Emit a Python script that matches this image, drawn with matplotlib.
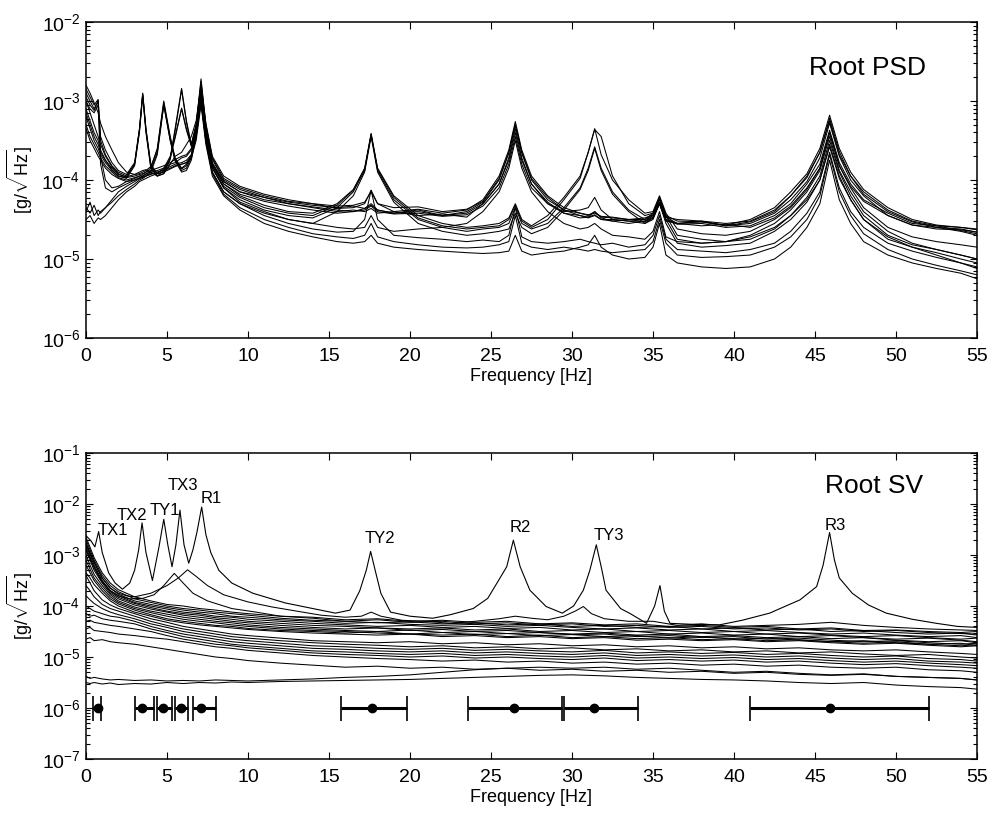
import matplotlib
matplotlib.use("Agg")
import matplotlib.pyplot as plt
import numpy as np
from matplotlib.ticker import LogLocator, MultipleLocator, NullFormatter

plt.rcParams["font.family"] = ["Liberation Sans", "DejaVu Sans"]
plt.rcParams["mathtext.fontset"] = "custom"
plt.rcParams["mathtext.rm"] = "Liberation Sans"
plt.rcParams["mathtext.it"] = "Liberation Sans:italic"
plt.rcParams["mathtext.bf"] = "Liberation Sans:bold"
plt.rcParams["axes.unicode_minus"] = False

# ---------------------------------------------------------------- top panel
# frequency grid [Hz] shared by all root PSD curves, values are log10(g/sqrt(Hz))
psd_freq = [0, 0.25, 0.5, 0.75, 0.9, 1.2, 1.6, 2.0, 2.5, 3.0,
            3.3, 3.5, 3.7, 4.0, 4.4, 4.8, 5.2, 5.5, 5.9, 6.2,
            6.5, 6.8, 7.1, 7.4, 7.8, 8.5, 9.5, 11, 12.5, 14,
            15.5, 16.5, 17.2, 17.6, 18.0, 19, 20.5, 22, 23.5, 24.5,
            25.5, 26.1, 26.5, 26.9, 27.5, 28.5, 29.5, 30.5, 31.0, 31.4,
            31.8, 32.5, 33.5, 34.5, 35.0, 35.4, 35.8, 36.5, 38, 39.5,
            41, 42.5, 43.5, 44.5, 45.3, 45.9, 46.5, 47.2, 48, 49.5,
            51, 52.5, 54, 55]

psd_x1 = [-2.85, -2.95, -3.05, -2.98, -3.45, -3.62, -3.78, -3.88, -3.93, -3.78,
          -3.35, -2.9, -3.35, -3.8, -3.92, -3.9, -3.72, -3.35, -2.84, -3.25,
          -3.55, -3.3, -2.72, -3.3, -3.72, -3.98, -4.1, -4.2, -4.27, -4.3,
          -4.36, -4.35, -4.3, -4.13, -4.3, -4.4, -4.37, -4.42, -4.38, -4.25,
          -3.95, -3.62, -3.26, -3.62, -3.95, -4.2, -4.35, -4.42, -4.45, -4.4,
          -4.47, -4.48, -4.5, -4.5, -4.42, -4.22, -4.45, -4.52, -4.53, -4.57,
          -4.5, -4.35, -4.15, -3.92, -3.6, -3.18, -3.6, -3.9, -4.12, -4.35,
          -4.5, -4.57, -4.6, -4.63]
psd_x2 = [-2.9, -3.0, -3.1, -3.0, -3.5, -3.68, -3.82, -3.9, -3.95, -3.8,
          -3.36, -2.91, -3.36, -3.82, -3.95, -3.92, -3.74, -3.38, -2.86, -3.27,
          -3.57, -3.32, -2.75, -3.32, -3.74, -4.0, -4.12, -4.22, -4.3, -4.34,
          -4.38, -4.4, -4.36, -4.3, -4.38, -4.42, -4.4, -4.45, -4.4, -4.28,
          -4.0, -3.66, -3.3, -3.66, -4.0, -4.25, -4.38, -4.45, -4.47, -4.44,
          -4.5, -4.5, -4.52, -4.52, -4.45, -4.25, -4.47, -4.55, -4.52, -4.58,
          -4.53, -4.4, -4.2, -3.97, -3.65, -3.22, -3.64, -3.95, -4.18, -4.4,
          -4.53, -4.6, -4.62, -4.66]
psd_x3 = [-3.0, -3.15, -3.3, -3.45, -3.55, -3.7, -3.83, -3.92, -3.97, -3.8,
          -3.37, -2.92, -3.37, -3.83, -3.92, -3.85, -3.7, -3.45, -3.09, -3.35,
          -3.55, -3.3, -2.8, -3.35, -3.78, -4.02, -4.15, -4.25, -4.3, -4.35,
          -4.4, -4.38, -4.4, -4.36, -4.42, -4.4, -4.45, -4.43, -4.47, -4.3,
          -4.05, -3.72, -3.35, -3.72, -4.05, -4.28, -4.42, -4.48, -4.47, -4.4,
          -4.48, -4.52, -4.55, -4.52, -4.47, -4.28, -4.5, -4.56, -4.55, -4.6,
          -4.58, -4.45, -4.3, -4.05, -3.8, -3.37, -3.78, -4.05, -4.25, -4.42,
          -4.55, -4.58, -4.64, -4.68]
psd_x4 = [-3.1, -3.25, -3.4, -3.5, -3.62, -3.75, -3.87, -3.95, -3.98, -3.82,
          -3.4, -2.93, -3.4, -3.85, -3.95, -3.88, -3.72, -3.47, -3.1, -3.37,
          -3.57, -3.35, -2.85, -3.38, -3.8, -4.05, -4.18, -4.27, -4.33, -4.38,
          -4.42, -4.4, -4.38, -4.33, -4.4, -4.43, -4.42, -4.46, -4.44, -4.33,
          -4.1, -3.8, -3.45, -3.8, -4.1, -4.3, -4.4, -4.38, -4.35, -4.22,
          -4.38, -4.5, -4.52, -4.55, -4.48, -4.3, -4.52, -4.55, -4.58, -4.56,
          -4.6, -4.48, -4.33, -4.1, -3.85, -3.4, -3.82, -4.08, -4.27, -4.45,
          -4.57, -4.6, -4.65, -4.7]
psd_y1 = [-3.2, -3.35, -3.5, -3.6, -3.68, -3.78, -3.88, -3.95, -3.97, -3.95,
          -3.93, -3.92, -3.9, -3.85, -3.6, -3.0, -3.45, -3.72, -3.85, -3.8,
          -3.68, -3.35, -2.9, -3.4, -3.82, -4.05, -4.2, -4.32, -4.4, -4.42,
          -4.3, -4.12, -3.85, -3.41, -3.85, -4.2, -4.45, -4.55, -4.6, -4.58,
          -4.55, -4.48, -4.3, -4.5, -4.58, -4.45, -4.22, -3.95, -3.65, -3.35,
          -3.68, -4.0, -4.25, -4.42, -4.4, -4.2, -4.42, -4.62, -4.68, -4.7,
          -4.65, -4.5, -4.35, -4.12, -3.85, -3.4, -3.82, -4.1, -4.35, -4.6,
          -4.72, -4.78, -4.82, -4.85]
psd_y2 = [-3.3, -3.45, -3.55, -3.65, -3.72, -3.82, -3.9, -3.97, -4.0, -3.97,
          -3.95, -3.95, -3.93, -3.88, -3.65, -3.05, -3.5, -3.75, -3.88, -3.85,
          -3.72, -3.4, -2.95, -3.45, -3.85, -4.1, -4.25, -4.38, -4.45, -4.48,
          -4.35, -4.15, -3.88, -3.42, -3.88, -4.25, -4.5, -4.6, -4.65, -4.62,
          -4.6, -4.55, -4.35, -4.55, -4.62, -4.55, -4.35, -4.1, -3.85, -3.58,
          -3.85, -4.15, -4.38, -4.5, -4.45, -4.28, -4.5, -4.75, -4.8, -4.78,
          -4.75, -4.62, -4.45, -4.22, -3.95, -3.5, -3.9, -4.2, -4.45, -4.7,
          -4.82, -4.88, -4.95, -5.0]
psd_y3 = [-3.15, -3.3, -3.45, -3.55, -3.65, -3.75, -3.85, -3.93, -3.96, -3.93,
          -3.92, -3.9, -3.88, -3.83, -3.62, -3.02, -3.47, -3.73, -3.86, -3.82,
          -3.7, -3.38, -2.92, -3.42, -3.84, -4.08, -4.22, -4.35, -4.42, -4.45,
          -4.32, -4.13, -3.86, -3.43, -3.86, -4.22, -4.48, -4.58, -4.62, -4.6,
          -4.58, -4.5, -4.32, -4.52, -4.6, -4.5, -4.25, -3.98, -3.65, -3.36,
          -3.45, -3.95, -4.3, -4.45, -4.42, -4.22, -4.45, -4.7, -4.75, -4.78,
          -4.72, -4.6, -4.45, -4.25, -4.0, -3.58, -3.98, -4.25, -4.5, -4.72,
          -4.85, -4.92, -5.0, -5.05]
psd_y4 = [-3.35, -3.5, -3.6, -3.7, -3.75, -3.85, -3.93, -3.98, -4.02, -4.0,
          -3.98, -3.97, -3.95, -3.9, -3.68, -3.05, -3.5, -3.76, -3.9, -3.88,
          -3.75, -3.45, -3.0, -3.5, -3.9, -4.15, -4.3, -4.42, -4.5, -4.55,
          -4.4, -4.2, -3.9, -3.45, -3.9, -4.28, -4.55, -4.65, -4.7, -4.68,
          -4.65, -4.62, -4.42, -4.6, -4.68, -4.6, -4.38, -4.12, -3.88, -3.6,
          -3.88, -4.18, -4.4, -4.55, -4.5, -4.3, -4.55, -4.8, -4.85, -4.83,
          -4.8, -4.65, -4.5, -4.28, -4.0, -3.55, -3.95, -4.25, -4.5, -4.75,
          -4.85, -4.95, -5.05, -5.1]
psd_l1 = [-4.35, -4.42, -4.32, -4.45, -4.4, -4.35, -4.28, -4.2, -4.12, -4.05,
          -4.0, -3.98, -3.95, -3.92, -3.9, -3.88, -3.85, -3.82, -3.8, -3.78,
          -3.7, -3.45, -3.0, -3.5, -3.9, -4.15, -4.3, -4.45, -4.55, -4.62,
          -4.66, -4.65, -4.5, -4.13, -4.5, -4.7, -4.73, -4.75, -4.78, -4.76,
          -4.78, -4.7, -4.35, -4.72, -4.78, -4.8, -4.78, -4.75, -4.78, -4.8,
          -4.82, -4.8, -4.85, -4.82, -4.7, -4.45, -4.75, -4.88, -4.9, -4.92,
          -4.88, -4.8, -4.65, -4.42, -4.15, -3.65, -4.1, -4.4, -4.6, -4.8,
          -4.9, -4.98, -5.05, -5.12]
psd_l2 = [-4.4, -4.28, -4.45, -4.38, -4.42, -4.35, -4.25, -4.15, -4.08, -4.02,
          -3.98, -3.96, -3.95, -3.93, -3.9, -3.87, -3.83, -3.8, -3.78, -3.75,
          -3.68, -3.42, -3.0, -3.52, -3.92, -4.18, -4.35, -4.5, -4.6, -4.68,
          -4.72, -4.74, -4.7, -4.55, -4.72, -4.78, -4.82, -4.85, -4.86, -4.85,
          -4.82, -4.78, -4.45, -4.8, -4.85, -4.88, -4.85, -4.88, -4.9, -4.88,
          -4.9, -4.92, -4.9, -4.88, -4.78, -4.5, -4.8, -4.95, -4.98, -4.97,
          -4.95, -4.85, -4.72, -4.5, -4.2, -3.68, -4.15, -4.45, -4.68, -4.88,
          -5.0, -5.08, -5.15, -5.2]
psd_l3 = [-4.5, -4.45, -4.55, -4.48, -4.5, -4.45, -4.35, -4.25, -4.15, -4.08,
          -4.02, -4.0, -3.98, -3.95, -3.92, -3.9, -3.86, -3.83, -3.8, -3.78,
          -3.72, -3.5, -3.05, -3.55, -3.95, -4.2, -4.38, -4.55, -4.65, -4.72,
          -4.78, -4.8, -4.78, -4.7, -4.8, -4.85, -4.88, -4.9, -4.92, -4.93,
          -4.92, -4.9, -4.7, -4.9, -4.95, -4.92, -4.9, -4.85, -4.82, -4.7,
          -4.85, -4.95, -5.0, -4.98, -4.85, -4.55, -4.95, -5.05, -5.1, -5.12,
          -5.1, -5.0, -4.85, -4.6, -4.3, -3.75, -4.25, -4.55, -4.78, -4.95,
          -5.05, -5.12, -5.18, -5.25]
psd_m1 = [-3.0, -3.1, -3.15, -3.05, -3.8, -4.1, -4.15, -4.1, -4.05, -4.0,
          -3.97, -3.95, -3.92, -3.9, -3.88, -3.85, -3.8, -3.78, -3.72, -3.7,
          -3.62, -3.38, -2.95, -3.45, -3.85, -4.1, -4.28, -4.4, -4.5, -4.55,
          -4.6, -4.62, -4.6, -4.45, -4.6, -4.65, -4.62, -4.6, -4.55, -4.4,
          -4.15, -3.85, -3.5, -3.85, -4.15, -4.4, -4.55, -4.62, -4.6, -4.55,
          -4.62, -4.7, -4.72, -4.75, -4.65, -4.4, -4.72, -4.78, -4.8, -4.78,
          -4.7, -4.55, -4.38, -4.15, -3.88, -3.45, -3.88, -4.15, -4.4, -4.65,
          -4.8, -4.88, -4.95, -5.0]
psd_m2 = [-2.95, -3.05, -3.12, -3.0, -3.7, -4.0, -4.1, -4.08, -4.02, -3.98,
          -3.95, -3.93, -3.9, -3.88, -3.85, -3.82, -3.78, -3.74, -3.7, -3.68,
          -3.6, -3.35, -2.88, -3.4, -3.8, -4.02, -4.15, -4.22, -4.28, -4.32,
          -4.35, -4.33, -4.36, -4.32, -4.38, -4.42, -4.38, -4.45, -4.42, -4.3,
          -4.05, -3.75, -3.4, -3.75, -4.05, -4.3, -4.42, -4.45, -4.48, -4.45,
          -4.5, -4.52, -4.5, -4.53, -4.48, -4.3, -4.5, -4.55, -4.53, -4.58,
          -4.55, -4.42, -4.25, -4.02, -3.72, -3.28, -3.7, -4.0, -4.2, -4.45,
          -4.57, -4.62, -4.63, -4.66]
psd_u1 = [-2.8, -2.9, -3.02, -3.15, -3.28, -3.45, -3.62, -3.78, -3.9, -3.93,
          -3.9, -3.88, -3.87, -3.9, -3.95, -3.92, -3.8, -3.7, -3.65, -3.55,
          -3.45, -3.25, -2.8, -3.28, -3.7, -3.95, -4.08, -4.18, -4.25, -4.3,
          -4.33, -4.32, -4.28, -4.15, -4.3, -4.35, -4.34, -4.4, -4.37, -4.27,
          -3.98, -3.65, -3.3, -3.65, -3.98, -4.22, -4.38, -4.42, -4.44, -4.42,
          -4.46, -4.47, -4.5, -4.48, -4.44, -4.22, -4.47, -4.5, -4.52, -4.55,
          -4.52, -4.38, -4.2, -3.95, -3.65, -3.25, -3.68, -3.95, -4.15, -4.38,
          -4.52, -4.58, -4.6, -4.62]

# ------------------------------------------------------------- bottom panel
# first three singular values, (frequency [Hz], log10 value)
sv1_freq = [0, 0.3, 0.55, 0.78, 1.0, 1.4, 1.8, 2.25, 2.7, 3.0, 3.25, 3.46, 3.7, 4.1,
            4.5, 4.8, 5.05, 5.31, 5.55, 5.8, 6.05, 6.34, 6.6, 6.85, 7.14, 7.4, 7.7,
            8.2, 9, 10.3, 12.3, 14, 15.4, 16.3, 16.9, 17.3, 17.57, 17.85, 18.2, 18.8,
            20, 21.4, 22.5, 23.9, 24.8, 25.35, 25.97, 26.38, 26.8, 27.4, 28.4, 29.4,
            30.1, 30.7, 31.1, 31.5, 31.85, 32.1, 33.0, 33.6, 34.6, 35.1, 35.43, 35.7,
            36.05, 37.5, 39.1, 40.5, 42.2, 43.2, 44.07, 45.1, 45.5, 45.9, 46.2, 46.5,
            47.3, 48.3, 49.4, 51, 52.5, 53.8, 55]
sv1_log = [-2.62, -2.72, -2.84, -2.54, -2.95, -3.35, -3.55, -3.67, -3.55, -3.3, -2.9, -2.37, -2.95, -3.5,
           -2.85, -2.3, -2.8, -3.23, -2.8, -2.12, -2.8, -3.16, -2.9, -2.55, -2.06, -2.6, -2.95,
           -3.3, -3.55, -3.75, -3.94, -4.05, -4.14, -4.08, -3.7, -3.3, -2.93, -3.3, -3.75, -4.12,
           -4.2, -4.24, -4.17, -4.05, -3.85, -3.56, -3.23, -2.71, -3.23, -3.69, -4.01, -4.14,
           -4.0, -3.69, -3.3, -2.8, -3.3, -3.69, -4.05, -4.15, -4.34, -4.0, -3.6, -4.1,
           -4.34, -4.36, -4.37, -4.28, -4.14, -4.0, -3.88, -3.62, -3.2, -2.56, -3.1, -3.45,
           -3.75, -3.98, -4.14, -4.26, -4.34, -4.4, -4.42]

sv2_freq = [0, 0.3, 0.6, 1.0, 1.5, 2.0, 2.5, 3.0, 4.0, 5.0, 5.7, 6.27, 6.8, 7.5, 8.5,
            10, 11.5, 13, 14.5, 16, 17, 17.6, 18.2, 19.5, 21, 22.5, 24, 25.5, 26.5,
            27.5, 28.5, 29.5, 30.2, 30.7, 31.2, 32, 33.5, 35, 36.5, 38, 40, 42, 44,
            46, 48, 50, 52, 55]
sv2_log = [-2.8, -3.0, -3.2, -3.45, -3.65, -3.75, -3.8, -3.82, -3.75, -3.6, -3.45, -3.29, -3.42, -3.6, -3.78,
           -3.92, -4.02, -4.1, -4.18, -4.22, -4.2, -4.12, -4.2, -4.28, -4.3, -4.34, -4.3, -4.25, -4.2,
           -4.24, -4.27, -4.2, -4.1, -4.01, -4.15, -4.25, -4.3, -4.3, -4.38, -4.35, -4.4, -4.38, -4.36,
           -4.32, -4.38, -4.42, -4.45, -4.48]

sv3_freq = [0, 0.3, 0.6, 1.0, 1.5, 2.0, 2.7, 3.5, 4.2, 4.8, 5.45, 6.0, 6.6, 7.5, 9,
            10.5, 12, 14, 16, 18, 20, 22, 24, 26, 28, 30, 32, 34, 36, 38, 40, 42,
            44, 46, 48, 50, 52, 55]
sv3_log = [-2.9, -3.1, -3.3, -3.52, -3.7, -3.8, -3.86, -3.85, -3.78, -3.6, -3.36, -3.55, -3.75, -3.9, -4.05,
           -4.12, -4.2, -4.24, -4.3, -4.27, -4.32, -4.3, -4.35, -4.33, -4.37, -4.35, -4.4, -4.38,
           -4.42, -4.4, -4.45, -4.43, -4.47, -4.45, -4.5, -4.48, -4.52, -4.55]

# remaining singular values on a common grid
sv_freq = [0, 0.25, 0.5, 1, 1.5, 2, 3, 4, 5, 6,
           7, 8, 9, 10, 12, 14, 16, 18, 20, 22,
           24, 26, 28, 30, 32, 34, 36, 38, 40, 42,
           44, 46, 48, 50, 52, 54, 55]
sv_b1 = [-2.65, -2.85, -3.05, -3.35, -3.55, -3.68, -3.82, -3.9, -3.97, -4.0,
         -4.05, -4.08, -4.12, -4.15, -4.2, -4.22, -4.27, -4.25, -4.3, -4.28,
         -4.32, -4.3, -4.35, -4.33, -4.37, -4.35, -4.4, -4.38, -4.42, -4.4,
         -4.45, -4.43, -4.48, -4.47, -4.5, -4.52, -4.5]
sv_b2 = [-2.7, -2.9, -3.1, -3.4, -3.6, -3.72, -3.86, -3.93, -4.0, -4.05,
         -4.08, -4.12, -4.15, -4.18, -4.24, -4.28, -4.3, -4.33, -4.31, -4.35,
         -4.33, -4.37, -4.35, -4.4, -4.38, -4.42, -4.4, -4.45, -4.43, -4.47,
         -4.45, -4.5, -4.48, -4.52, -4.55, -4.53, -4.57]
sv_b3 = [-2.75, -2.95, -3.15, -3.45, -3.65, -3.77, -3.9, -3.97, -4.03, -4.08,
         -4.12, -4.15, -4.2, -4.22, -4.27, -4.3, -4.34, -4.32, -4.36, -4.38,
         -4.36, -4.4, -4.38, -4.42, -4.45, -4.43, -4.47, -4.45, -4.5, -4.48,
         -4.52, -4.55, -4.53, -4.57, -4.6, -4.58, -4.62]
sv_b4 = [-2.8, -3.0, -3.2, -3.5, -3.7, -3.8, -3.93, -4.0, -4.06, -4.12,
         -4.15, -4.2, -4.22, -4.26, -4.3, -4.34, -4.37, -4.4, -4.38, -4.42,
         -4.4, -4.44, -4.42, -4.47, -4.45, -4.5, -4.48, -4.52, -4.5, -4.55,
         -4.53, -4.57, -4.6, -4.58, -4.62, -4.65, -4.63]
sv_b5 = [-2.85, -3.05, -3.25, -3.52, -3.72, -3.83, -3.95, -4.03, -4.1, -4.15,
         -4.18, -4.23, -4.26, -4.3, -4.34, -4.38, -4.4, -4.43, -4.45, -4.43,
         -4.47, -4.45, -4.5, -4.48, -4.52, -4.5, -4.55, -4.53, -4.57, -4.55,
         -4.6, -4.58, -4.62, -4.65, -4.63, -4.67, -4.7]
sv_b6 = [-2.9, -3.1, -3.3, -3.55, -3.75, -3.86, -3.98, -4.06, -4.12, -4.18,
         -4.22, -4.26, -4.3, -4.33, -4.38, -4.42, -4.45, -4.43, -4.48, -4.46,
         -4.5, -4.48, -4.52, -4.55, -4.53, -4.57, -4.55, -4.6, -4.58, -4.62,
         -4.6, -4.64, -4.62, -4.67, -4.7, -4.68, -4.72]
sv_b7 = [-3.0, -3.2, -3.38, -3.6, -3.78, -3.9, -4.02, -4.1, -4.16, -4.22,
         -4.26, -4.3, -4.33, -4.37, -4.42, -4.45, -4.48, -4.5, -4.47, -4.52,
         -4.5, -4.54, -4.52, -4.56, -4.55, -4.6, -4.58, -4.62, -4.6, -4.65,
         -4.63, -4.67, -4.7, -4.68, -4.72, -4.75, -4.73]
sv_b8 = [-3.1, -3.28, -3.45, -3.65, -3.82, -3.93, -4.05, -4.13, -4.2, -4.26,
         -4.3, -4.33, -4.37, -4.4, -4.45, -4.48, -4.5, -4.53, -4.55, -4.52,
         -4.56, -4.54, -4.58, -4.56, -4.6, -4.58, -4.63, -4.6, -4.65, -4.63,
         -4.67, -4.7, -4.68, -4.72, -4.75, -4.73, -4.78]
sv_b9 = [-3.2, -3.35, -3.5, -3.7, -3.86, -3.96, -4.08, -4.17, -4.25, -4.3,
         -4.34, -4.38, -4.4, -4.44, -4.48, -4.5, -4.53, -4.5, -4.55, -4.57,
         -4.55, -4.6, -4.57, -4.62, -4.6, -4.64, -4.62, -4.66, -4.64, -4.68,
         -4.66, -4.7, -4.73, -4.7, -4.75, -4.78, -4.76]
sv_b10 = [-3.35, -3.45, -3.58, -3.75, -3.9, -4.0, -4.12, -4.2, -4.28, -4.33,
          -4.37, -4.4, -4.43, -4.46, -4.5, -4.53, -4.55, -4.57, -4.55, -4.6,
          -4.58, -4.62, -4.6, -4.64, -4.62, -4.67, -4.65, -4.68, -4.66, -4.7,
          -4.68, -4.72, -4.75, -4.73, -4.77, -4.8, -4.78]
sv_c1 = [-3.4, -3.55, -3.7, -3.88, -3.98, -4.05, -4.15, -4.25, -4.32, -4.4,
         -4.45, -4.5, -4.55, -4.58, -4.63, -4.68, -4.7, -4.72, -4.7, -4.74,
         -4.72, -4.76, -4.74, -4.78, -4.76, -4.8, -4.78, -4.82, -4.8, -4.84,
         -4.82, -4.86, -4.88, -4.86, -4.9, -4.93, -4.95]
sv_c2 = [-3.6, -3.7, -3.82, -3.97, -4.05, -4.1, -4.2, -4.3, -4.38, -4.45,
         -4.5, -4.55, -4.6, -4.63, -4.68, -4.72, -4.75, -4.77, -4.8, -4.78,
         -4.82, -4.8, -4.84, -4.82, -4.86, -4.84, -4.88, -4.86, -4.9, -4.88,
         -4.92, -4.9, -4.94, -4.97, -4.95, -5.0, -5.02]
sv_c3 = [-3.8, -3.88, -3.95, -4.05, -4.12, -4.17, -4.25, -4.35, -4.42, -4.5,
         -4.55, -4.6, -4.65, -4.68, -4.73, -4.78, -4.8, -4.83, -4.85, -4.83,
         -4.87, -4.85, -4.88, -4.9, -4.87, -4.92, -4.9, -4.93, -4.91, -4.95,
         -4.93, -4.97, -5.0, -4.98, -5.03, -5.05, -5.08]
sv_c4 = [-4.0, -4.05, -4.1, -4.15, -4.2, -4.22, -4.3, -4.4, -4.48, -4.55,
         -4.6, -4.65, -4.7, -4.73, -4.78, -4.83, -4.85, -4.88, -4.9, -4.88,
         -4.92, -4.9, -4.93, -4.95, -4.92, -4.97, -4.95, -4.98, -4.96, -5.0,
         -4.98, -5.02, -5.05, -5.03, -5.08, -5.1, -5.12]
sv_c5 = [-4.15, -4.2, -4.18, -4.25, -4.28, -4.3, -4.35, -4.45, -4.52, -4.6,
         -4.65, -4.7, -4.75, -4.78, -4.83, -4.88, -4.9, -4.93, -4.95, -4.93,
         -4.97, -4.95, -4.98, -5.0, -4.97, -5.02, -5.0, -5.03, -5.01, -5.05,
         -5.03, -5.07, -5.1, -5.08, -5.12, -5.15, -5.17]
sv_c6 = [-4.3, -4.28, -4.32, -4.35, -4.38, -4.4, -4.45, -4.5, -4.58, -4.65,
         -4.7, -4.75, -4.78, -4.82, -4.87, -4.92, -4.95, -4.97, -5.0, -4.98,
         -5.02, -5.0, -5.03, -5.05, -5.02, -5.07, -5.05, -5.08, -5.06, -5.1,
         -5.08, -5.12, -5.15, -5.13, -5.17, -5.2, -5.22]
sv_d1 = [-4.45, -4.42, -4.48, -4.5, -4.52, -4.55, -4.58, -4.62, -4.65, -4.7,
         -4.75, -4.8, -4.83, -4.87, -4.92, -4.97, -5.0, -5.03, -5.05, -5.08,
         -5.06, -5.1, -5.08, -5.12, -5.1, -5.14, -5.12, -5.16, -5.14, -5.18,
         -5.16, -5.2, -5.22, -5.2, -5.25, -5.27, -5.3]
sv_d2 = [-4.65, -4.62, -4.68, -4.66, -4.7, -4.72, -4.75, -4.8, -4.85, -4.9,
         -4.95, -5.0, -5.03, -5.07, -5.12, -5.16, -5.2, -5.18, -5.22, -5.2,
         -5.24, -5.22, -5.26, -5.24, -5.28, -5.26, -5.3, -5.28, -5.32, -5.3,
         -5.34, -5.36, -5.34, -5.38, -5.4, -5.42, -5.45]
sv_e1 = [-5.38, -5.42, -5.4, -5.43, -5.45, -5.44, -5.46, -5.45, -5.47, -5.46,
         -5.47, -5.45, -5.46, -5.47, -5.45, -5.43, -5.4, -5.38, -5.35, -5.3,
         -5.25, -5.22, -5.2, -5.22, -5.2, -5.24, -5.22, -5.26, -5.3, -5.28,
         -5.32, -5.35, -5.33, -5.38, -5.4, -5.42, -5.45]
sv_e2 = [-5.5, -5.52, -5.5, -5.53, -5.51, -5.54, -5.52, -5.53, -5.5, -5.52,
         -5.5, -5.51, -5.49, -5.5, -5.48, -5.47, -5.46, -5.45, -5.44, -5.42,
         -5.4, -5.38, -5.36, -5.35, -5.37, -5.4, -5.42, -5.44, -5.45, -5.47,
         -5.5, -5.52, -5.5, -5.55, -5.58, -5.6, -5.63]

# identified modes: label, natural frequency, interval limits [Hz]
mode_labels = ["TX1", "TX2", "TY1", "TX3", "R1", "TY2", "R2", "TY3", "R3"]
mode_freq = [0.72, 3.46, 4.78, 5.88, 7.1, 17.63, 26.45, 31.36, 45.93]
mode_low = [0.45, 3.04, 4.38, 5.5, 6.62, 15.75, 23.56, 29.52, 41.0]
mode_high = [0.95, 4.22, 5.33, 6.32, 8.02, 19.8, 29.36, 34.1, 52.05]
# label anchor (left edge, log10 of baseline)
label_x = [0.72, 1.9, 3.95, 5.04, 7.1, 17.18, 26.13, 31.36, 45.6]
label_log = [-2.61, -2.31, -2.22, -1.73, -1.99, -2.77, -2.54, -2.71, -2.5]

FS = 14
W, H = 997, 826
fig = plt.figure(figsize=(W / 100, H / 100), dpi=100)
ax1 = fig.add_axes([86 / W, 1 - 338 / H, 891 / W, 316 / H])
ax2 = fig.add_axes([86 / W, 1 - 759 / H, 891 / W, 306 / H])


def style_axes(ax, ylo, yhi):
    ax.set_yscale("log")
    ax.set_xlim(0, 55)
    ax.set_ylim(ylo, yhi)
    ax.xaxis.set_major_locator(MultipleLocator(5))
    ax.yaxis.set_major_locator(LogLocator(base=10, numticks=20))
    ax.yaxis.set_minor_locator(LogLocator(base=10, subs=np.arange(2, 10), numticks=20))
    ax.yaxis.set_minor_formatter(NullFormatter())
    ax.tick_params(which="both", direction="in", top=True, right=True, labelsize=FS, width=0.8)
    ax.tick_params(which="major", length=5)
    ax.tick_params(which="minor", length=3)
    ax.tick_params(axis="x", pad=7)
    ax.tick_params(axis="y", pad=4)
    for s in ax.spines.values():
        s.set_linewidth(1.1)
    ax.set_xlabel("Frequency [Hz]", fontsize=FS - 1, labelpad=2)
    ax.set_ylabel(r"[g/$\sqrt{\mathrm{Hz}}$]", fontsize=FS - 1, labelpad=5)


psd_curves = [psd_x1, psd_x2, psd_x3, psd_x4, psd_y1, psd_y2, psd_y3, psd_y4,
              psd_l1, psd_l2, psd_l3, psd_m1, psd_m2, psd_u1]
for c in psd_curves:
    ax1.plot(psd_freq, 10.0 ** np.array(c), color="black", lw=0.75)
style_axes(ax1, 1e-6, 1e-2)
ax1.text(44.6, 10 ** -2.67, "Root PSD", fontsize=19, ha="left", va="baseline")

sv_curves = [sv_b1, sv_b2, sv_b3, sv_b4, sv_b5, sv_b6, sv_b7, sv_b8, sv_b9, sv_b10,
             sv_c1, sv_c2, sv_c3, sv_c4, sv_c5, sv_c6, sv_d1, sv_d2, sv_e1, sv_e2]
for c in sv_curves:
    ax2.plot(sv_freq, 10.0 ** np.array(c), color="black", lw=0.75)
ax2.plot(sv3_freq, 10.0 ** np.array(sv3_log), color="black", lw=0.75)
ax2.plot(sv2_freq, 10.0 ** np.array(sv2_log), color="black", lw=0.75)
ax2.plot(sv1_freq, 10.0 ** np.array(sv1_log), color="black", lw=0.8)

# mode intervals at 1e-6
for lo, hi, fc in zip(mode_low, mode_high, mode_freq):
    ax2.plot([lo, hi], [1e-6, 1e-6], color="black", lw=2.2, solid_capstyle="butt")
    ax2.vlines([lo, hi], 10 ** -6.26, 10 ** -5.76, color="black", lw=1.2)
    ax2.plot(fc, 1e-6, "o", color="black", ms=6)

for lab, lx, ly in zip(mode_labels, label_x, label_log):
    ax2.text(lx, 10 ** ly, lab, fontsize=12, ha="left", va="baseline")

style_axes(ax2, 1e-7, 1e-1)
ax2.text(45.6, 10 ** -1.79, "Root SV", fontsize=19, ha="left", va="baseline")

fig.savefig("out.png", dpi=100)
